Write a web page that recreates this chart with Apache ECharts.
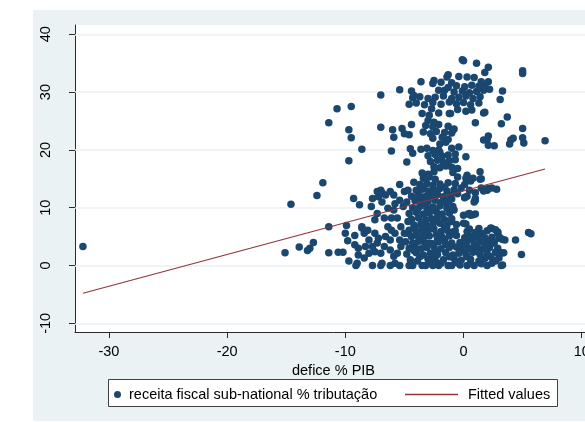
<!DOCTYPE html>
<html><head><meta charset="utf-8">
<script src="https://cdn.jsdelivr.net/npm/echarts@6/dist/echarts.min.js"></script>
<style>
html,body{margin:0;padding:0;background:#fff;overflow:hidden;width:585px;height:422px;position:relative}
#bg{position:absolute;left:33px;top:10px;width:552px;height:411px;background:#eaf2f3}
#c{position:absolute;left:0;top:0;width:620px;height:422px}
</style></head><body>
<div id="bg"></div><div id="c"></div>
<script>
const xTicks = [-30, -20, -10, 0, 10];
const yTicks = [-10, 0, 10, 20, 30, 40];
const scatterName = 'receita fiscal sub-national % tributação';
const lineName = 'Fitted values';
const xTitle = 'defice % PIB';

const fitLine = [[-32.2, -4.8], [6.9, 16.7]];

const sparsePts = [
  [-32.2,3.3],[-15.1,2.2],[-14.6,10.6],[-13.9,3.2],[-13.2,2.6],[-13.0,3.0],[-12.7,4.0],[-12.4,12.1],
  [-11.9,14.3],[-11.4,6.7],[-11.4,2.2],[-11.4,24.7],[-10.7,27.1],[-10.6,2.3],[-10.2,2.3],[-9.5,27.5],
  [-9.7,23.5],[-9.5,22.1],[-9.7,18.1],[-8.6,20.1],[-9.3,11.6],[-8.8,10.5],[-9.9,6.9],[-10.0,5.6],
  [-9.8,4.3],[-9.2,5.2],[-8.6,6.5]
];

const leftCluster = [
  [-9.7,0.8],[-9.1,0.0],[-9.0,0.4],[-9.2,3.6],[-8.9,3.0],[-8.9,1.8],[-8.6,6.7],[-8.4,5.6],[-8.1,6.1],
  [-8.0,4.4],[-8.3,3.3],[-8.4,1.3],[-7.7,0.0],[-8.0,2.1],[-7.7,3.3],[-7.5,2.4],[-7.3,3.9],[-7.2,4.7],
  [-7.5,5.6],[-7.0,2.1],[-6.9,0.4],[-7.0,0.0],[-6.7,3.3],[-6.2,4.4],[-6.4,6.7],[-6.1,6.1],[-5.8,5.6],
  [-6.2,2.7],[-5.9,1.6],[-6.2,0.0],[-5.8,0.4],[-5.4,0.0],[-5.6,2.1],[-5.3,3.3],[-5.3,6.7],[-5.0,5.6],
  [-5.4,4.4],[-6.6,5.0],[-6.1,8.2],[-5.6,8.2],
  [-7.7,11.6],[-7.3,12.8],[-7.0,13.0],[-7.2,11.9],[-6.9,12.6],[-6.6,12.2],[-6.2,12.8],[-5.9,12.2],
  [-5.4,14.0],[-6.9,11.0],[-6.4,9.9],[-7.3,9.0],[-7.5,7.9],[-6.7,8.2],[-5.8,10.7],[-5.4,11.3],
  [-5.9,9.6],[-5.1,10.2],[-5.0,12.8],[-4.7,13.0],[-7.8,10.2]
];

const lowerCluster = [
  [-4.3,0],[-3.5,0],[-3.2,0],[-2.6,0],[-2.1,0],[-1.3,0],[-1.0,0],[0.3,0],[0.9,0],[2.0,0],[3.2,0],[-4.6,0],[-0.3,0.1],
  [-4.5,1.0],[-3.9,0.8],[-3.0,1.1],[-2.4,0.9],[-1.7,1.0],[-0.8,1.2],[-0.2,0.9],[0.6,1.1],[1.3,0.8],[1.8,1.2],[2.6,0.9],[3.0,1.3],
  [-4.8,2.0],[-4.0,2.2],[-3.4,1.8],[-2.8,2.1],[-2.2,1.9],[-1.5,2.2],[-0.9,1.8],[-0.4,2.1],[0.2,2.0],[0.8,2.3],[1.4,1.9],[2.0,2.1],[2.7,2.3],[3.3,2.2],[4.9,1.9],
  [-4.6,3.0],[-4.1,3.2],[-3.6,2.9],[-3.1,3.1],[-2.5,3.3],[-1.9,2.9],[-1.2,3.1],[-0.6,3.2],[0.0,2.8],[0.5,3.0],[1.1,3.3],[1.6,2.9],[2.2,3.1],[2.9,3.0],
  [-4.9,4.1],[-4.3,3.9],[-3.8,4.2],[-3.3,4.0],[-2.7,3.8],[-2.1,4.1],[-1.6,4.3],[-1.0,3.9],[-0.3,4.0],[0.3,4.2],[0.9,3.8],[1.4,4.1],[2.0,4.3],[2.6,4.0],[3.3,4.5],[4.4,4.4],
  [-4.4,5.0],[-3.9,5.2],[-3.4,4.9],[-2.9,5.1],[-2.3,5.3],[-1.8,4.9],[-1.2,5.1],[-0.6,5.2],[0.1,4.8],[0.6,5.1],[1.2,5.0],[1.8,4.8],[2.4,4.9],[3.0,4.7],[5.5,5.7],[5.7,5.5],
  [-4.6,6.1],[-4.0,5.9],[-3.5,6.2],[-3.0,6.0],[-2.5,6.3],[-1.9,5.9],[-1.4,6.1],[-0.7,6.0],[0.3,5.9],[1.0,5.7],[2.0,6.0],[2.4,6.4],[2.9,5.8],[0.5,6.3],
  [-4.2,7.0],[-3.6,7.2],[-3.1,6.9],[-2.6,7.1],[-2.0,7.3],[-1.4,6.9],[-0.6,7.1],[0.2,7.2],[-1.0,7.6],
  [-4.4,8.0],[-3.8,8.2],[-3.2,7.9],[-2.7,8.1],[-2.2,8.3],[-1.6,7.9],[-1.0,8.1],[0.4,8.9],[0.8,8.8],
  [-3.7,1.5],[-2.7,1.5],[-1.2,1.5],[0.3,1.5],[1.0,2.7],[-0.2,3.6],[-2.2,4.6],[1.6,5.5],[-3.3,5.6],[-1.6,6.6],
  [0.8,4.5],[2.3,1.5],[-4.1,6.6],[1.5,0.3],[-0.6,0.5],
  [3.4,2.2],[3.3,0.1],[2.7,0.8],[2.8,2.4],[3.1,4.8],[3.5,4.4],[2.3,6.5],[2.7,6.2],[2.9,5.6],[0.6,8.7],[0.0,8.7],[0.0,7.3],
  [-4.7,5.6],[-3.0,3.8],[-1.5,3.6],[0.2,3.4],[1.9,3.6],[-2.4,2.6],[-0.3,2.6],[1.2,2.4],[-4.2,2.6],[2.4,3.8],
  [-0.9,5.8],[1.3,6.4],[-2.9,0.4],[-1.9,0.4],[0.6,0.4],[2.4,0.4],[-3.4,6.7],[-2.3,7.8],[-4.7,7.6]
];

const middleCluster = [
  [-4.6,9.0],[-4.0,9.2],[-3.4,8.9],[-2.9,9.1],[-2.3,9.3],[-1.8,8.9],[-1.2,9.1],[-0.8,9.6],[0.5,9.0],[1.0,8.9],
  [-4.3,10.0],[-3.7,10.2],[-3.1,9.9],[-2.6,10.1],[-2.0,10.3],[-1.4,9.9],[-0.9,10.2],[-1.5,10.8],
  [-4.8,11.0],[-4.1,11.2],[-3.5,10.9],[-3.0,11.1],[-2.4,11.3],[-1.9,10.9],[-1.3,11.1],[0.1,11.7],[0.9,11.0],[1.0,11.6],
  [-4.4,12.0],[-3.8,12.2],[-3.3,11.9],[-2.8,12.1],[-2.2,12.3],[-1.7,11.9],[-1.1,12.1],[-0.5,12.4],[0.3,12.0],[1.0,12.6],
  [-4.0,13.0],[-3.5,13.2],[-3.0,12.9],[-2.5,13.1],[-2.0,13.3],[-1.4,12.9],[-0.8,13.1],[-0.2,13.4],[0.5,13.0],
  [1.5,13.4],[1.8,13.2],[2.1,13.3],[2.8,13.2],[2.4,13.4],[2.0,13.0],[1.7,12.9],
  [-3.7,14.0],[-3.1,14.2],[-2.6,13.9],[-2.0,14.1],[-1.3,14.3],[-0.7,14.2],[0.1,14.0],[0.6,14.6],[1.4,14.9],
  [-3.4,15.1],[-2.9,15.3],[-2.4,14.9],[-0.5,15.3],[0.2,15.1],[1.5,15.0],[1.4,16.2],[0.8,15.1],[0.3,15.6],
  [-3.5,16.0],[-3.0,15.8],[-2.5,16.2],[-0.9,16.1],[1.0,11.3],[0.1,11.8],
  [-3.9,9.7],[-2.5,9.6],[-3.2,10.6],[-2.3,12.8],[-3.7,11.6],[-1.0,11.5],[-1.6,13.6],[-3.4,13.6],[-4.2,14.4]
];

const upperCluster = [
  [-2.5,17.1],[-2.0,16.9],[-1.5,17.2],[-1.0,17.0],[-0.5,16.8],
  [-4.8,17.9],[-2.8,18.0],[-2.2,18.2],[-1.7,17.8],[-1.2,18.1],[-0.7,18.3],
  [-4.3,19.4],[-3.0,19.0],[-2.4,19.2],[-1.8,18.9],[-1.3,19.1],[-0.7,19.3],[0.2,18.8],
  [-6.1,19.8],[-4.5,20.2],[-3.6,20.1],[-3.1,20.3],[-2.6,19.9],[-2.1,20.0],[-1.0,20.3],[-0.4,20.5],
  [-2.0,21.0],[-1.5,21.3],[-2.6,22.0],[-1.8,22.2],[-1.3,21.8],
  [-4.6,22.6],[-3.4,23.1],[-2.8,22.8],[-2.3,23.2],[-1.6,23.0],[-0.9,23.4],
  [-3.2,24.2],[-2.6,24.0],[-2.1,24.4],[-1.3,24.1],[-3.0,25.1],[-2.5,24.8],
  [-3.5,26.3],[-2.9,26.0],[-2.1,26.4],[-1.2,26.3],[0.2,26.7],[1.7,26.4],
  [-2.7,27.1],[-0.5,27.0],[0.7,26.9],
  [-4.6,27.9],[-4.0,28.1],[-3.3,27.8],[-2.6,28.2],[-1.9,27.9],[-1.2,28.3],[-0.6,28.0],[0.0,28.2],[0.6,27.8],[1.3,28.1],
  [-4.3,29.0],[-3.7,29.2],[-3.0,28.9],[-2.4,29.1],[-1.7,29.3],[-1.0,28.9],[-0.4,29.1],[0.2,29.3],[0.8,28.9],[1.4,29.2],
  [-4.4,30.2],[-2.1,30.3],[-1.6,30.3],[-0.8,30.0],[-0.1,30.2],[0.5,29.9],[1.1,30.1],[1.7,30.3],[2.2,30.5],
  [-1.3,30.8],[-0.6,31.1],[0.1,30.9],[0.7,31.2],[1.3,31.0],[1.8,31.1],
  [-3.6,31.8],[-2.5,32.0],[-1.9,31.7],[-2.6,31.5],[-1.0,31.6],[1.5,31.8],[2.1,31.8],
  [-1.3,33.0],[-1.4,32.6],[-0.4,32.7],[0.3,32.6],[0.9,32.5],
  [-0.1,35.6],[0.0,35.4],[1.1,35.0],[2.1,34.3],[1.8,33.4],[5.0,33.7],[5.0,33.2],
  [3.3,30.2],[3.1,28.7],[-5.4,30.4],[-7.0,29.5],[-4.2,29.4],
  [1.0,24.7],[3.7,25.7],[3.2,24.5],[-4.4,24.4],[-7.0,23.9],[-6.0,23.5],[-5.2,23.7],[-5.9,22.2],[-5.0,22.8],
  [5.0,23.7],[5.0,22.1],[5.1,21.2],[4.0,21.7],[4.2,22.0],[3.9,21.0],[6.9,21.6],[2.1,22.4],[2.0,21.8],
  [1.7,21.7],[2.1,20.8],[2.6,20.7],[-1.0,22.9],[-0.8,23.6],[-2.0,19.6],[-1.1,26.3],[1.8,26.5]
];

const allPts = [].concat(sparsePts, leftCluster, lowerCluster, middleCluster, upperCluster);

const FONT = '"Liberation Sans", Arial, Helvetica, sans-serif';
const AXIS_COLOR = '#2b2b2b';
const FS = 14.5;

const chart = echarts.init(document.getElementById('c'), null, {renderer: 'canvas'});
chart.setOption({
  animation: false,
  backgroundColor: 'transparent',
  textStyle: {fontFamily: FONT},
  grid: {left: 75, top: 25, width: 517, height: 307, show: true, backgroundColor: '#ffffff', borderWidth: 0, containLabel: false},
  xAxis: {
    type: 'value', min: -32.87, max: 10.87,
    name: xTitle, nameLocation: 'middle', nameGap: 22,
    nameTextStyle: {fontSize: FS, color: '#000', fontFamily: FONT},
    axisLine: {show: true, onZero: false, lineStyle: {color: AXIS_COLOR, width: 1}},
    axisTick: {show: true, length: 6, customValues: xTicks, lineStyle: {color: AXIS_COLOR}},
    axisLabel: {show: true, customValues: xTicks, fontSize: FS, color: '#000', margin: 12, fontFamily: FONT},
    splitLine: {show: false}
  },
  yAxis: {
    type: 'value', min: -11.5, max: 41.6,
    axisLine: {show: true, onZero: false, lineStyle: {color: AXIS_COLOR, width: 1}},
    axisTick: {show: true, length: 6, customValues: yTicks, lineStyle: {color: AXIS_COLOR}},
    axisLabel: {show: true, customValues: yTicks, fontSize: FS, color: '#000', margin: 22, rotate: 90, fontFamily: FONT},
    splitLine: {show: false}
  },
  graphic: [{
    type: 'rect', z: 0, shape: {x: 108.5, y: 379.5, width: 449, height: 27},
    style: {fill: '#ffffff', stroke: '#404040', lineWidth: 1}
  }],
  legend: [
    {data: [scatterName], left: 114, top: 387, padding: 0, icon: 'circle', itemWidth: 13, itemHeight: 7,
     textStyle: {fontSize: FS, color: '#000', fontFamily: FONT}, selectedMode: false},
    {data: [lineName], left: 405, top: 387, padding: 0, icon: 'rect', itemWidth: 53, itemHeight: 1.3,
     textStyle: {fontSize: FS, color: '#000', fontFamily: FONT, padding: [0,0,0,5]}, selectedMode: false}
  ],
  series: [
    {
      name: 'gridlines', type: 'line', data: [], z: 1, silent: true,
      markLine: {
        silent: true, symbol: 'none', label: {show: false}, animation: false, z: 1,
        lineStyle: {color: '#eaf2f3', width: 1.5, type: 'solid'},
        emphasis: {disabled: true},
        data: yTicks.map(v => ({yAxis: v}))
      }
    },
    {
      name: scatterName, type: 'scatter', data: allPts, symbol: 'circle', symbolSize: 7.5, z: 10,
      itemStyle: {color: '#1a476f', opacity: 1}, emphasis: {disabled: true}
    },
    {
      name: lineName, type: 'line', data: fitLine, z: 12, symbol: 'none', showSymbol: false,
      lineStyle: {color: '#90353b', width: 1.2}, itemStyle: {color: '#90353b'}, emphasis: {disabled: true}
    }
  ]
});
</script>
</body></html>
